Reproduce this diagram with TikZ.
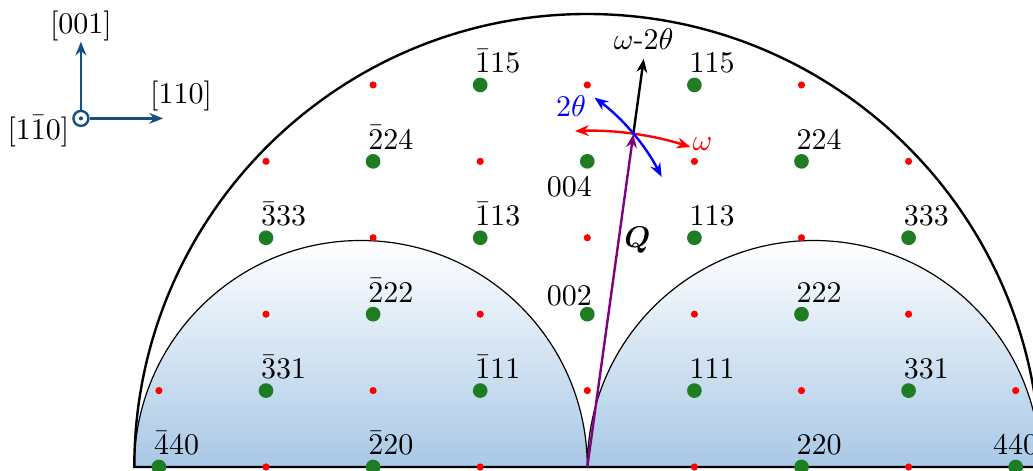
\documentclass[tikz,border=0pt]{standalone}
\usepackage{xcolor}
\usepackage{amsmath}
\usepackage{amssymb}
\usepackage{bm}
\usepackage{tikz}
\usetikzlibrary{arrows.meta, positioning, calc}

\definecolor{limitblue}{RGB}{168,200,230}
\definecolor{spotgreen}{RGB}{30,125,35}
\definecolor{axisblue}{RGB}{20,80,130}
\definecolor{qpurple}{RGB}{128,0,128}

\begin{document}
\begin{tikzpicture}[
    x=35.7pt, y=25.47pt,
    >={Stealth[length=4.6pt, width=3.6pt]},
    allowed/.style={circle, fill=spotgreen, inner sep=0pt, minimum size=4.9pt},
    forbidden/.style={circle, fill=red, inner sep=0pt, minimum size=2.4pt},
    hkl/.style={anchor=south west, inner sep=0pt, xshift=-1.8pt, yshift=3.8pt},
    arrow/.style={->, thick},
    scan/.style={<->, thick}
]
\useasboundingbox (-195.77pt,-1.33pt) rectangle (148.57pt,155.67pt);

% Inaccessible regions
\shade[top color=white, bottom color=limitblue] (-151pt,0) arc[start angle=180, end angle=0, radius=75.5pt] -- cycle;
\shade[top color=white, bottom color=limitblue] (0,0) arc[start angle=180, end angle=0, radius=75.5pt] -- cycle;
\draw (-151pt,0) arc[start angle=180, end angle=0, radius=75.5pt] arc[start angle=180, end angle=0, radius=75.5pt];

% Limiting sphere
\draw[thick] (-151pt,0) arc[start angle=180, end angle=0, radius=151pt] -- cycle;

% Forbidden reflections
\foreach \h/\l in {-3/0,-1/0,1/0,3/0,-4/1,-2/1,0/1,2/1,4/1,-3/2,-1/2,1/2,3/2,-2/3,0/3,2/3,-3/4,-1/4,1/4,3/4,-2/5,0/5,2/5}
    \node[forbidden] (r\h\l) at (\h,\l) {};

% Allowed reflections
\foreach \h/\l/\t in {-4/0/\bar{4}40, -2/0/\bar{2}20, 2/0/220, -3/1/\bar{3}31, -1/1/\bar{1}11, 1/1/111, 3/1/331, -2/2/\bar{2}22, 2/2/222, -3/3/\bar{3}33, -1/3/\bar{1}13, 1/3/113, 3/3/333, -2/4/\bar{2}24, 2/4/224, -1/5/\bar{1}15, 1/5/115}{
    \node[allowed] (g\h\l) at (\h,\l) {};
    \node[hkl] (t\h\l) at (g\h\l.center) {$\t$};
}
\node[allowed] (g40) at (4,0) {};
\node[anchor=south, inner sep=0pt, yshift=3.8pt] (t40) at (g40.center) {$440$};
\node[allowed] (g02) at (0,2) {};
\node[anchor=south east, inner sep=0pt, xshift=1.7pt, yshift=2.8pt] (t02) at (g02.center) {$002$};
\node[allowed] (g04) at (0,4) {};
\node[anchor=north east, inner sep=0pt, xshift=1.7pt, yshift=-5pt] (t04) at (g04.center) {$004$};

% Scattering vector and scans
\coordinate (O) at (0,0);
\coordinate (P) at (82.13:112.05pt);
\coordinate (E) at (-42.5pt,62.43pt);
\draw[arrow, qpurple] (O) -- (P) node[pos=0.68, right, inner sep=1.5pt, text=black] (q) {$\bm{Q}$};
\draw[arrow] (P) -- (82.13:137.4pt) coordinate (wt) node[above, inner sep=2.5pt] (lw2t) {$\omega$-$2\theta$};
\coordinate (w1) at (72.1:112.05pt);
\draw[scan, red] (w1) arc[start angle=72.1, end angle=92.1, radius=112.05pt];
\node[anchor=west, inner sep=0pt, xshift=0.5pt, yshift=1.1pt, red] (lw) at (w1) {$\omega$};
\coordinate (t1) at ($(E)+(53.5:75.5pt)$);
\draw[scan, blue] (t1) arc[start angle=53.5, end angle=27, radius=75.5pt];
\node[anchor=east, inner sep=0pt, xshift=-2.6pt, yshift=-2.8pt, blue] (ltt) at (t1) {$2\theta$};

% Crystal axes
\node[circle, draw=axisblue, thick, inner sep=0pt, minimum size=5pt] (ax) at (-168.8pt,116.2pt) {};
\fill[axisblue] (ax) circle (0.7pt);
\node[anchor=south, inner sep=0pt] (lz) at (-168.8pt,141.8pt) {$[001]$};
\coordinate (xt) at (-141.4pt,116.2pt);
\node[anchor=south west, inner sep=0pt, xshift=-4.5pt, yshift=2.2pt] (lx) at (xt) {$[110]$};
\node[anchor=north east, inner sep=0pt] (ly) at ([xshift=-0.8pt, yshift=1.1pt]ax.west) {$[1\bar{1}0]$};
\draw[arrow, axisblue] (ax) -- (ax |- lz.south);
\draw[arrow, axisblue] (ax) -- (xt);

\end{tikzpicture}
\end{document}
